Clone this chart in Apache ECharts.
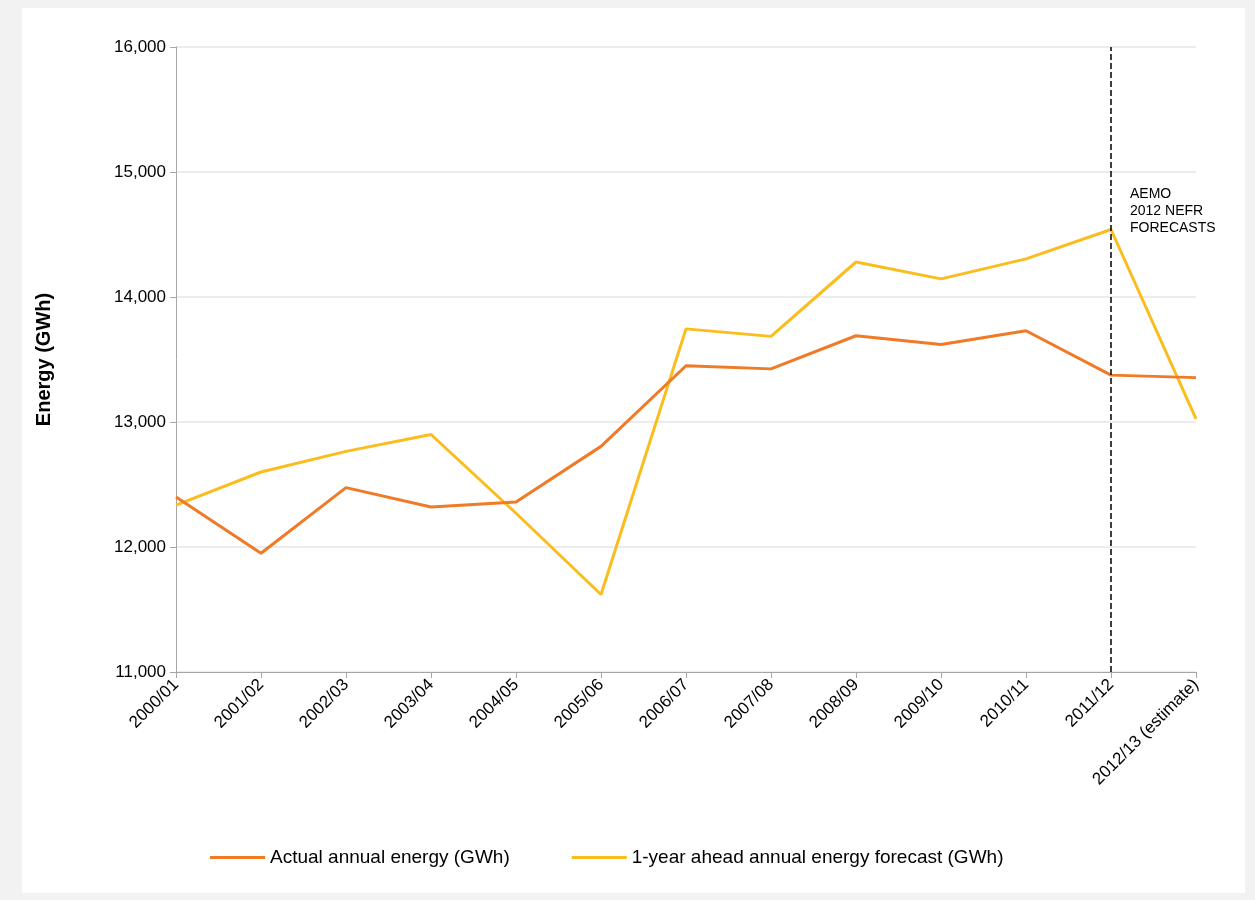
<!DOCTYPE html>
<html>
<head>
<meta charset="utf-8">
<script src="https://cdn.jsdelivr.net/npm/echarts@6/dist/echarts.min.js"></script>
<style>
  html, body { margin: 0; padding: 0; background: #f2f2f2; }
  #frame { position: absolute; left: 22px; top: 8px; width: 1223px; height: 885px; background: #fff; }
  #chart { position: absolute; left: 0; top: 0; width: 1255px; height: 900px; }
</style>
</head>
<body>
<div id="frame"></div>
<div id="chart"></div>
<script>
var years = ['2000/01', '2001/02', '2002/03', '2003/04', '2004/05', '2005/06', '2006/07',
  '2007/08', '2008/09', '2009/10', '2010/11', '2011/12', '2012/13 (estimate)'];
var actual = [12400, 11950, 12475, 12320, 12360, 12805, 13450, 13425, 13690, 13620, 13730, 13375, 13355];
var forecast = [12335, 12600, 12765, 12900, 12270, 11620, 13745, 13685, 14280, 14145, 14305, 14540, 13025];

var myChart = echarts.init(document.getElementById('chart'));
var option = {
  backgroundColor: 'transparent',
  textStyle: { fontFamily: 'Liberation Sans, Arial, sans-serif' },
  grid: { left: 176, top: 47, right: 59, bottom: 228 },
  legend: {
    bottom: 28,
    left: 205,
    itemGap: 62,
    itemWidth: 55,
    itemHeight: 3,
    icon: 'rect',
    textStyle: { fontSize: 19, color: '#000' },
    data: ['Actual annual energy (GWh)', '1-year ahead annual energy forecast (GWh)']
  },
  xAxis: {
    type: 'category',
    data: years,
    boundaryGap: false,
    axisLine: { lineStyle: { color: '#a6a6a6' } },
    axisTick: { show: true, lineStyle: { color: '#a6a6a6' }, length: 6 },
    axisLabel: { rotate: 45, fontSize: 17, color: '#000', interval: 0, margin: 10 }
  },
  yAxis: {
    type: 'value',
    min: 11000,
    max: 16000,
    interval: 1000,
    name: 'Energy (GWh)',
    nameLocation: 'middle',
    nameGap: 122,
    nameTextStyle: { fontSize: 20, fontWeight: 'bold', color: '#000' },
    axisLine: { show: true, lineStyle: { color: '#a6a6a6' } },
    axisTick: { show: true, inside: false, lineStyle: { color: '#a6a6a6' }, length: 6 },
    axisLabel: { fontSize: 17, color: '#000', margin: 10,
      formatter: function (v) { return v.toLocaleString('en-US'); } },
    splitLine: { lineStyle: { color: '#e6e6e6', width: 1.5 } }
  },
  series: [
    {
      name: 'Actual annual energy (GWh)',
      type: 'line',
      data: actual,
      symbol: 'none',
      lineStyle: { color: '#f07a26', width: 3 },
      itemStyle: { color: '#f07a26' },
      z: 3,
      markLine: {
        silent: true,
        symbol: 'none',
        label: { show: false },
        lineStyle: { color: '#000', type: 'dashed', width: 1.5 },
        data: [{ xAxis: '2011/12' }]
      }
    },
    {
      name: '1-year ahead annual energy forecast (GWh)',
      type: 'line',
      data: forecast,
      symbol: 'none',
      lineStyle: { color: '#fbbd1e', width: 3 },
      itemStyle: { color: '#fbbd1e' },
      z: 2
    }
  ],
  graphic: [{
    type: 'text',
    left: 1130,
    top: 186,
    style: {
      text: 'AEMO\n2012 NEFR\nFORECASTS',
      fontSize: 14,
      lineHeight: 17,
      fill: '#000',
      fontFamily: 'Liberation Sans, Arial, sans-serif'
    }
  }]
};
myChart.setOption(option);
</script>
</body>
</html>
